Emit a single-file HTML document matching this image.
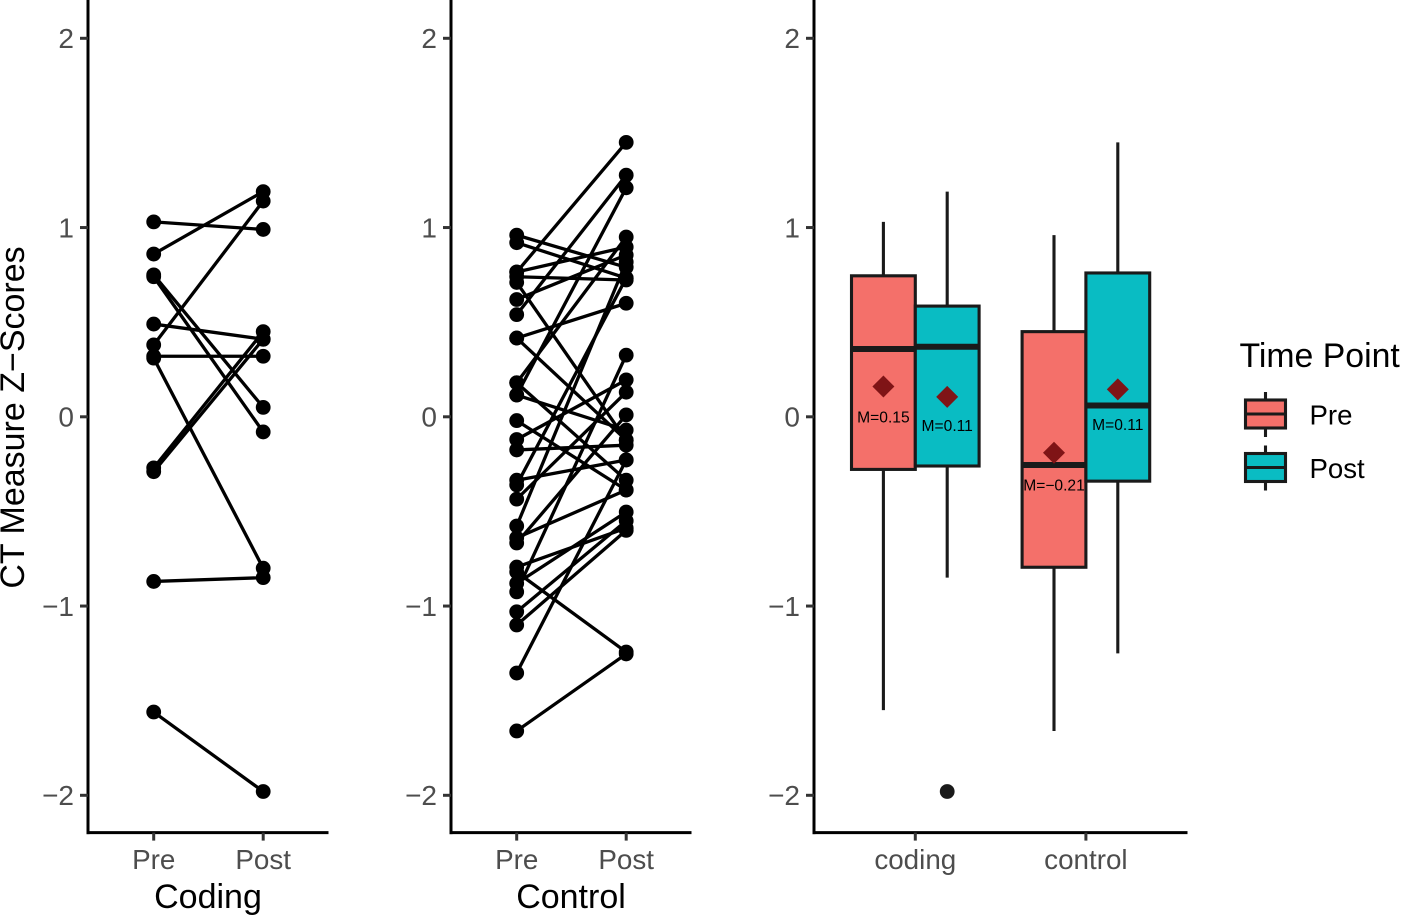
<!DOCTYPE html>
<html>
<head>
<meta charset="utf-8">
<title>CT Measure Z-Scores</title>
<style>
html,body{margin:0;padding:0;background:#fff;width:1417px;height:915px;overflow:hidden}
svg{display:block;font-family:"Liberation Sans",Arial,sans-serif}
</style>
</head>
<body>
<svg id="chart" xmlns="http://www.w3.org/2000/svg" width="1417" height="915" viewBox="0 0 1417 915"></svg>
<script>
const yTicks = [2, 1, 0, -1, -2];
const pairedCategories = ['Pre', 'Post'];
const codingPre = [1.03, 0.86, 0.75, 0.74, 0.49, 0.38, 0.32, 0.31, -0.27, -0.29, -0.87, -1.56];
const codingPost = [0.99, 1.19, 0.05, -0.08, 0.41, 1.14, 0.32, -0.80, 0.45, 0.41, -0.85, -1.98];
const controlPre = [0.96, 0.92, 0.765, 0.765, 0.74, 0.71, 0.62, 0.54, 0.416, 0.416, 0.18, 0.18, 0.115, 0.115, -0.02, -0.12, -0.175, -0.335, -0.36, -0.435, -0.577, -0.64, -0.667, -0.794, -0.82, -0.88, -0.925, -1.03, -1.10, -1.354, -1.66];
const controlPost = [0.79, 0.733, 1.45, 0.897, 0.723, -0.123, 0.855, 1.277, 0.60, -0.123, 0.95, -0.335, 1.21, -0.07, -0.387, 0.195, -0.15, -0.228, 0.733, 0.13, 0.818, -0.387, 0.01, -0.588, -1.243, -0.503, 0.326, -0.55, -0.6, -0.228, -1.253];
const boxGroups = ['coding', 'control'];
const boxPoints = ['Pre', 'Post'];
const boxColors = ['#f4706a', '#09bcc3'];
const boxQ1 = [[-0.278, -0.26], [-0.795, -0.34]];
const boxMedian = [[0.358, 0.37], [-0.255, 0.06]];
const boxQ3 = [[0.745, 0.585], [0.45, 0.76]];
const boxLow = [[-1.55, -0.85], [-1.66, -1.25]];
const boxHigh = [[1.03, 1.19], [0.96, 1.45]];
const boxMeans = [[0.16, 0.105], [-0.19, 0.145]];
const meanLabels = [['M=0.15', 'M=0.11'], ['M=\u22120.21', 'M=0.11']];
const meanLabelLevels = [[0.0, -0.045], [-0.36, -0.04]];
const outliers = [[null, -1.98], [null, null]];

const NS = 'http://www.w3.org/2000/svg';
const svg = document.getElementById('chart');
const AXIS_BOTTOM = 832.6;
const y = v => 416.8 - 189.25 * v;

function make(tag, attrs, parent, text) {
  const el = document.createElementNS(NS, tag);
  for (const k in attrs) el.setAttribute(k, attrs[k]);
  if (text !== undefined) el.textContent = text;
  (parent || svg).appendChild(el);
  return el;
}

function drawAxes(x0, x1, name) {
  const g = make('g', {}, svg);
  
  
  const yAxis = make('line', {x1: x0, x2: x0, y1: 0, y2: AXIS_BOTTOM + 1.5, stroke: '#000', 'stroke-width': 3}, g);
  
  
  const xAxis = make('line', {x1: x0 - 1.5, x2: x1, y1: AXIS_BOTTOM, y2: AXIS_BOTTOM, stroke: '#000', 'stroke-width': 3}, g);
  
  
  yTicks.forEach(t => {
    const tick = make('line', {x1: x0 - 8, x2: x0, y1: y(t), y2: y(t), stroke: '#333', 'stroke-width': 3}, g);
    
    
    const label = make('text', {x: x0 - 14, y: y(t) + 9.8, 'text-anchor': 'end', 'font-size': 28, fill: '#4d4d4d'}, g, t < 0 ? '\u2212' + Math.abs(t) : String(t));
    
    
  });
}

function xTick(px, text, name) {
  const tick = make('line', {x1: px, x2: px, y1: AXIS_BOTTOM, y2: AXIS_BOTTOM + 8, stroke: '#333', 'stroke-width': 3});
  
  
  const label = make('text', {x: px, y: 869, 'text-anchor': 'middle', 'font-size': 27.8, fill: '#4d4d4d'}, svg, text);
  
  
}

function drawPaired(x0, pre, post, title, name) {
  drawAxes(x0, x0 + 240.5, name);
  const xPos = i => x0 + 65.7 + 109.5 * i;
  pairedCategories.forEach((c, i) => xTick(xPos(i), c, name));
  const t = make('text', {x: x0 + 120, y: 908, 'text-anchor': 'middle', 'font-size': 34, fill: '#000'}, svg, title);
  
  
  pre.forEach((v, i) => {
    const line = make('line', {x1: xPos(0), y1: y(v), x2: xPos(1), y2: y(post[i]), stroke: '#000', 'stroke-width': 3.3});
    
    
  });
  pre.forEach((v, i) => {
    const a = make('circle', {cx: xPos(0), cy: y(v), r: 7.4, fill: '#000'});
    
    
    const b = make('circle', {cx: xPos(1), cy: y(post[i]), r: 7.4, fill: '#000'});
    
    
  });
}

drawPaired(88, codingPre, codingPost, 'Coding', 'coding');
drawPaired(451, controlPre, controlPost, 'Control', 'control');

const yTitle = make('text', {x: 0, y: 0, transform: 'translate(24,417.5) rotate(-90)', 'text-anchor': 'middle', 'font-size': 34, fill: '#000'}, svg, 'CT Measure Z\u2212Scores');



/* Box panel */
drawAxes(814, 1187.5, 'boxplot');
const groupX = g => 915.3 + 170.6 * g;
const boxW = 63.8;
boxGroups.forEach((name, g) => {
  xTick(groupX(g), name, 'boxplot');
  boxPoints.forEach((pt, p) => {
    const left = groupX(g) + (p - 1) * boxW;
    const cx = left + boxW / 2;
    const wr = make('g', {});
    
    
    const w = make('line', {x1: cx, x2: cx, y1: y(boxHigh[g][p]), y2: y(boxLow[g][p]), stroke: '#1a1a1a', 'stroke-width': 3.1}, wr);
    
    
    const r = make('rect', {x: left, y: y(boxQ3[g][p]), width: boxW, height: y(boxQ1[g][p]) - y(boxQ3[g][p]), fill: boxColors[p], stroke: '#1a1a1a', 'stroke-width': 3.1}, wr);
    
    
    const m = make('line', {x1: left, x2: left + boxW, y1: y(boxMedian[g][p]), y2: y(boxMedian[g][p]), stroke: '#1a1a1a', 'stroke-width': 6}, wr);
    
    
    if (outliers[g][p] !== null) {
      const o = make('circle', {cx: cx, cy: y(outliers[g][p]), r: 7.4, fill: '#1a1a1a'}, wr);
      
      
    }
  });
});
boxGroups.forEach((name, g) => {
  boxPoints.forEach((pt, p) => {
    const cx = groupX(g) + (p - 0.5) * boxW;
    const my = y(boxMeans[g][p]);
    const d = make('polygon', {points: [cx - 11, my, cx, my - 11, cx + 11, my, cx, my + 11].join(' '), fill: '#7f1416'});
    
    
    const l = make('text', {x: cx, y: y(meanLabelLevels[g][p]) + 5.5, 'text-anchor': 'middle', 'font-size': 15.6, fill: '#000'}, svg, meanLabels[g][p]);
    
    
  });
});

/* Legend */
const legendTitle = make('text', {x: 1239.5, y: 367, 'font-size': 33.8, fill: '#000'}, svg, 'Time Point');


boxPoints.forEach((pt, i) => {
  const top = 400 + 53.5 * i;
  const g = make('g', {});
  
  
  const w = make('line', {x1: 1265.5, x2: 1265.5, y1: top - 8, y2: top + 37, stroke: '#1a1a1a', 'stroke-width': 3.1}, g);
  
  
  const r = make('rect', {x: 1245.5, y: top, width: 40, height: 28, fill: boxColors[i], stroke: '#1a1a1a', 'stroke-width': 3.1}, g);
  
  
  const m = make('line', {x1: 1245.5, x2: 1285.5, y1: top + 14, y2: top + 14, stroke: '#1a1a1a', 'stroke-width': 3.1}, g);
  
  
  const t = make('text', {x: 1309.5, y: top + 24.5, 'font-size': 27.6, fill: '#000'}, g, pt);
  
  
});
</script>
</body>
</html>
